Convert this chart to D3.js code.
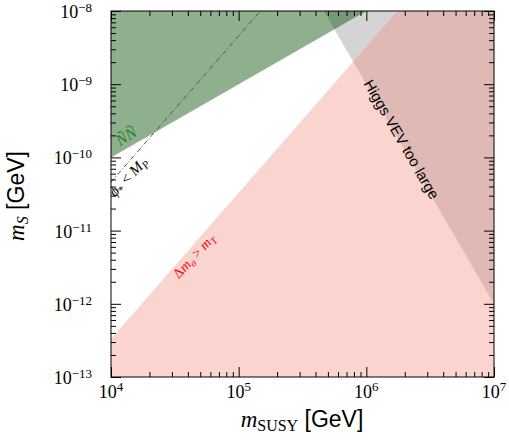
<!DOCTYPE html>
<html>
<head>
<meta charset="utf-8">
<script src="https://cdn.jsdelivr.net/npm/d3@7"></script>
<style>
  body { margin: 0; background: #fff; }
  svg { display: block; }
</style>
</head>
<body>
<div id="chart"></div>
<script>
const svgWidth = 509
const svgHeight = 440
const margin = { top: 11, right: 15, bottom: 63, left: 111 }
const width = svgWidth - margin.left - margin.right
const height = svgHeight - margin.top - margin.bottom

// axis ranges and tick values
const xDomain = [1e4, 1e7]
const yDomain = [1e-13, 1e-8]
const xMajor = [1e4, 1e5, 1e6, 1e7]
const xMajorExp = ["4", "5", "6", "7"]
const yMajor = [1e-13, 1e-12, 1e-11, 1e-10, 1e-9, 1e-8]
const yMajorExp = ["\u221213", "\u221212", "\u221211", "\u221210", "\u22129", "\u22128"]

// excluded regions, [m_SUSY, m_S]
const greenRegion = [[1e4, 1e-8], [1e4, 1e-10], [1e6, 1e-8]]
const higgsRegion = [[4.64e5, 1e-8], [1e7, 1e-8], [1e7, 1e-12]]
const pinkRegion = [[1e4, 1e-13], [1e4, 3.3e-13], [1.75e6, 1e-8], [1e7, 1e-8], [1e7, 1e-13]]
// phi_* < M_P line
const planckLine = [[1e4, 4.6e-11], [1.48e5, 1e-8]]

const svg = d3.select("#chart").append("svg")
  .attr("width", svgWidth)
  .attr("height", svgHeight)
const g = svg.append("g")
  .attr("transform", "translate(" + margin.left + "," + margin.top + ")")

const x = d3.scaleLog().domain(xDomain).range([0, width])
const y = d3.scaleLog().domain(yDomain).range([height, 0])

function minorTicks(domain) {
  const out = []
  const lo = Math.round(Math.log10(domain[0])), hi = Math.round(Math.log10(domain[1]))
  for (let e = lo; e < hi; e++) {
    for (let m = 2; m <= 9; m++) out.push(m * Math.pow(10, e))
  }
  return out
}
const xMinor = minorTicks(xDomain)
const yMinor = minorTicks(yDomain)

const line = d3.line().x(d => x(d[0])).y(d => y(d[1]))

// REGIONS
g.append("path").datum(higgsRegion)
  .attr("d", d => line(d) + "Z")
  .attr("fill", "#000").attr("fill-opacity", 0.17)
g.append("path").datum(pinkRegion)
  .attr("d", d => line(d) + "Z")
  .attr("fill", "rgb(241,141,128)").attr("fill-opacity", 0.37)
g.append("path").datum(greenRegion)
  .attr("d", d => line(d) + "Z")
  .attr("fill", "rgb(7,78,7)").attr("fill-opacity", 0.45)

g.append("path").datum(planckLine)
  .attr("d", line)
  .attr("fill", "none")
  .attr("stroke", "#555")
  .attr("stroke-width", 1)
  .attr("stroke-dasharray", "5,2,1,2")

// AXES (ticks pointing inward on all sides)
function styleAxis(sel) {
  sel.select(".domain").remove()
  sel.selectAll(".tick line").attr("stroke", "#000").attr("stroke-width", 1)
}
const axes = [
  [d3.axisBottom(x), "translate(0," + height + ")", xMajor, xMinor],
  [d3.axisTop(x), "translate(0,0)", xMajor, xMinor],
  [d3.axisLeft(y), "translate(0,0)", yMajor, yMinor],
  [d3.axisRight(y), "translate(" + width + ",0)", yMajor, yMinor]
]
axes.forEach(([axis, tr, major, minor]) => {
  g.append("g").attr("transform", tr)
    .call(axis.tickValues(minor).tickSize(-5).tickFormat(() => ""))
    .call(styleAxis)
  g.append("g").attr("transform", tr)
    .call(axis.tickValues(major).tickSize(-10).tickFormat(() => ""))
    .call(styleAxis)
})

// TICK LABELS
const tickFont = "'Liberation Serif', 'Times New Roman', serif"
const xLab = g.append("g").selectAll("text").data(xMajor).enter()
  .append("text")
  .attr("x", d => x(d))
  .attr("y", height + 21)
  .attr("text-anchor", "middle")
  .attr("font-family", tickFont)
  .attr("font-size", 18)
xLab.append("tspan").text("10")
xLab.append("tspan").attr("dy", -7).attr("font-size", 13).text((d, i) => xMajorExp[i])

const yLab = g.append("g").selectAll("text").data(yMajor).enter()
  .append("text")
  .attr("x", -19)
  .attr("y", d => y(d) + 7)
  .attr("text-anchor", "end")
  .attr("font-family", tickFont)
  .attr("font-size", 18)
yLab.append("tspan").text("10")
yLab.append("tspan").attr("dy", -6).attr("font-size", 13).text((d, i) => yMajorExp[i])

// FRAME
g.append("rect")
  .attr("width", width).attr("height", height)
  .attr("fill", "none").attr("stroke", "#000").attr("stroke-width", 1)

// AXIS TITLES
const sans = "'Liberation Sans', Arial, sans-serif"
const xTitle = svg.append("text")
  .attr("x", 302).attr("y", 427)
  .attr("text-anchor", "middle")
  .attr("font-size", 23)
xTitle.append("tspan").attr("font-family", tickFont).attr("font-style", "italic").text("m")
xTitle.append("tspan").attr("font-family", tickFont).attr("font-size", 16).attr("dy", 4).text("SUSY")
xTitle.append("tspan").attr("font-family", sans).attr("dy", -4).text(" [GeV]")

const yTitle = svg.append("text")
  .attr("transform", "translate(24,196) rotate(-90)")
  .attr("text-anchor", "middle")
  .attr("font-size", 23)
yTitle.append("tspan").attr("font-family", tickFont).attr("font-style", "italic").text("m")
yTitle.append("tspan").attr("font-family", tickFont).attr("font-style", "italic").attr("font-size", 16).attr("dy", 4).text("S")
yTitle.append("tspan").attr("font-family", sans).attr("dy", -4).text(" [GeV]")

// REGION LABELS (anchored in pixel offsets from data points)
g.append("text")
  .attr("transform", "translate(" + (x(1e4) + 9) + "," + (y(1e-10) - 11) + ") rotate(-32)")
  .attr("font-family", tickFont).attr("font-style", "italic")
  .attr("font-size", 16).attr("fill", "#1a8a1a")
  .text("\u00d1\u00d1")

const planckText = g.append("text")
  .attr("transform", "translate(" + (x(1e4) + 4) + "," + (y(1e-11) - 33) + ") rotate(-46)")
  .attr("font-family", tickFont).attr("font-size", 15).attr("fill", "#000")
planckText.append("tspan").attr("font-style", "italic").text("\u03d5")
planckText.append("tspan").attr("font-size", 11).attr("dy", 3).text("*")
planckText.append("tspan").attr("dy", -3).text(" < ")
planckText.append("tspan").attr("font-style", "italic").text("M")
planckText.append("tspan").attr("font-size", 11).attr("dy", 3).attr("font-style", "italic").text("P")

const dmText = g.append("text")
  .attr("transform", "translate(" + (x(3.1e4) + 5) + "," + (y(2.1e-12) - 1) + ") rotate(-47)")
  .attr("font-family", tickFont).attr("font-size", 14).attr("fill", "#ff0000")
dmText.append("tspan").text("\u0394")
dmText.append("tspan").attr("font-style", "italic").text("m")
dmText.append("tspan").attr("font-style", "italic").attr("font-size", 10).attr("dy", 3).text("\u03c3")
dmText.append("tspan").attr("dy", -3).text(" > ")
dmText.append("tspan").attr("font-style", "italic").text("m")
dmText.append("tspan").attr("font-style", "italic").attr("font-size", 10).attr("dy", 3).text("T")

g.append("text")
  .attr("transform", "translate(" + (x(1.74e6)) + "," + (y(1.62e-10)) + ") rotate(60)")
  .attr("text-anchor", "middle")
  .attr("font-family", sans).attr("font-size", 15).attr("fill", "#000")
  .text("Higgs VEV too large")
</script>
</body>
</html>
